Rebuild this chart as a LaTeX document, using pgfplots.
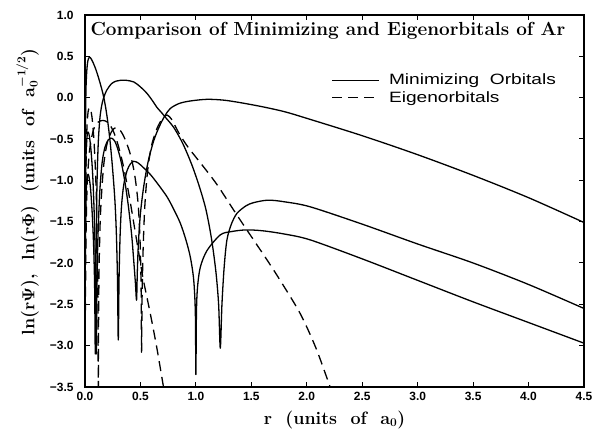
\documentclass[border=0pt]{standalone}
\usepackage{pgfplots}
\pgfplotsset{compat=1.18}
\usepackage{fontspec}
\newfontfamily\sansf{Liberation Sans}
\begin{document}
\begin{tikzpicture}
\useasboundingbox (-85bp,-44bp) rectangle (521bp,387bp);
\begin{axis}[
  scale only axis, width=499bp, height=372bp,
  xmin=0, xmax=4.5, ymin=-3.5, ymax=1,
  xtick={0,0.5,1,1.5,2,2.5,3,3.5,4,4.5},
  ytick={-3.5,-3,-2.5,-2,-1.5,-1,-0.5,0,0.5,1},
  xticklabels={0.0,0.5,1.0,1.5,2.0,2.5,3.0,3.5,4.0,4.5},
  yticklabels={−3.5,−3.0,−2.5,−2.0,−1.5,−1.0,−0.5,0.0,0.5,1.0},
  tick align=inside, major tick length=5bp,
  every tick/.style={black, line width=1bp},
  tick label style={font=\sansf\bfseries\fontsize{12}{12}\selectfont},
  yticklabel style={xshift=-8bp},
  xticklabel style={yshift=-2bp},
  axis line style={line width=1.6bp},
  xlabel={r\ \ (units\ \ of\ \ a{\boldmath$_{0}$})},
  ylabel={ln(r{\boldmath$\Psi$}),\ \ ln(r{\boldmath$\Phi$})\ \ (units\ \ of\ \ a{\boldmath$_{0}^{-1/2}$})},
  label style={font=\bfseries\fontsize{18}{18}\selectfont},
  xlabel style={at={(axis description cs:0.5,0)}, anchor=base, yshift=-37bp},
  ylabel style={at={(axis description cs:-0.115,0.525)}, anchor=center},
  legend style={at={(axis description cs:0.494,0.847)}, anchor=north west, draw=none, fill=none,
    font=\sansf\fontsize{15}{15}\selectfont, row sep=1bp, inner sep=0pt},
  legend cell align=left,
  legend image code/.code={\draw[#1] (0bp,0bp) -- (47bp,0bp);},
  crv/.style={black, no markers, line width=1.3bp, line join=round, smooth, tension=0.5},
  dsh/.style={crv, dash pattern=on 10bp off 6bp},
]
% S1
\addplot[crv] coordinates {(0.003,-0.6)(0.008,0.05)(0.015,0.3)(0.025,0.44)(0.04,0.49)(0.06,0.46)(0.09,0.37)(0.12,0.25)(0.15,0.11)(0.17,0.0)(0.19,-0.15)(0.21,-0.34)(0.23,-0.58)(0.25,-0.88)(0.27,-1.25)(0.283,-1.65)(0.293,-2.2)(0.3,-2.93)(0.307,-2.2)(0.317,-1.65)(0.33,-1.3)(0.35,-1.05)(0.38,-0.88)(0.41,-0.8)(0.44,-0.77)(0.48,-0.79)(0.53,-0.85)(0.59,-0.93)(0.66,-1.05)(0.74,-1.2)(0.8,-1.35)(0.86,-1.52)(0.91,-1.72)(0.95,-1.93)(0.98,-2.2)(0.995,-2.6)(1.0,-3.35)(1.005,-2.6)(1.015,-2.29)(1.04,-2.05)(1.1,-1.85)(1.22,-1.66)(1.32,-1.62)(1.45,-1.6)(1.6,-1.61)(1.8,-1.65)(2.03,-1.72)(2.5,-1.95)(3.0,-2.21)(3.5,-2.47)(4.0,-2.72)(4.5,-2.97)};
\addlegendentry{\hspace{7bp}\scalebox{1.28}[1]{Minimizing\ \ Orbitals}}
% D1
\addplot[dsh] coordinates {(0.003,-1.8)(0.01,-0.75)(0.018,-0.35)(0.028,-0.17)(0.04,-0.12)(0.052,-0.15)(0.065,-0.26)(0.08,-0.5)(0.095,-0.9)(0.105,-1.35)(0.112,-1.9)(0.117,-2.6)(0.12,-3.6)(0.123,-2.6)(0.128,-2.0)(0.137,-1.5)(0.15,-1.15)(0.17,-0.8)(0.2,-0.55)(0.24,-0.41)(0.28,-0.36)(0.32,-0.4)(0.36,-0.5)(0.41,-0.69)(0.45,-0.95)(0.48,-1.3)(0.497,-1.75)(0.506,-2.3)(0.51,-3.08)(0.515,-2.4)(0.525,-1.8)(0.54,-1.3)(0.565,-0.88)(0.6,-0.58)(0.65,-0.37)(0.7,-0.25)(0.74,-0.21)(0.78,-0.26)(0.82,-0.36)(0.86,-0.46)(0.93,-0.6)(1.0,-0.72)(1.1,-0.89)(1.2,-1.07)(1.37,-1.42)(1.52,-1.72)(1.65,-1.98)(1.76,-2.21)(1.94,-2.61)(2.08,-3.02)(2.2,-3.46)(2.25,-3.65)};
\addlegendentry{\hspace{7bp}\scalebox{1.28}[1]{Eigenorbitals}}
% S2
\addplot[crv, forget plot] coordinates {(0.003,-1.6)(0.008,-0.8)(0.014,-0.55)(0.022,-0.43)(0.03,-0.42)(0.04,-0.47)(0.055,-0.65)(0.07,-0.95)(0.083,-1.4)(0.092,-1.9)(0.098,-2.5)(0.102,-3.1)(0.106,-2.5)(0.112,-1.95)(0.12,-1.55)(0.135,-1.1)(0.155,-0.78)(0.18,-0.6)(0.21,-0.51)(0.24,-0.49)(0.27,-0.53)(0.3,-0.64)(0.33,-0.8)(0.36,-1.02)(0.39,-1.3)(0.42,-1.65)(0.44,-1.98)(0.455,-2.25)(0.465,-2.45)(0.472,-2.1)(0.482,-1.75)(0.5,-1.4)(0.53,-1.07)(0.57,-0.77)(0.62,-0.52)(0.67,-0.35)(0.72,-0.22)(0.77,-0.13)(0.85,-0.07)(0.95,-0.04)(1.1,-0.02)(1.25,-0.03)(1.4,-0.06)(1.6,-0.11)(1.8,-0.17)(2.0,-0.25)(2.5,-0.46)(3.0,-0.69)(3.5,-0.94)(4.0,-1.21)(4.5,-1.51)};
% S3
\addplot[crv, forget plot] coordinates {(0.003,-2.0)(0.008,-1.3)(0.015,-1.02)(0.025,-0.93)(0.035,-0.95)(0.05,-1.1)(0.065,-1.4)(0.078,-1.8)(0.087,-2.3)(0.093,-3.1)(0.098,-2.2)(0.103,-1.5)(0.108,-1.05)(0.114,-0.75)(0.122,-0.48)(0.135,-0.24)(0.15,-0.1)(0.166,-0.01)(0.196,0.09)(0.24,0.17)(0.28,0.2)(0.32,0.21)(0.37,0.21)(0.44,0.19)(0.5,0.13)(0.56,0.05)(0.61,-0.04)(0.65,-0.12)(0.69,-0.18)(0.72,-0.23)(0.8,-0.36)(0.88,-0.55)(0.96,-0.8)(1.03,-1.07)(1.09,-1.35)(1.14,-1.7)(1.18,-2.1)(1.205,-2.5)(1.22,-3.03)(1.235,-2.5)(1.255,-2.05)(1.28,-1.72)(1.32,-1.53)(1.37,-1.4)(1.45,-1.31)(1.52,-1.27)(1.65,-1.24)(1.8,-1.26)(2.03,-1.32)(2.5,-1.53)(3.0,-1.77)(3.5,-2.0)(4.0,-2.26)(4.5,-2.55)};
% D2
\addplot[dsh, forget plot] coordinates {(0.003,-2.6)(0.01,-1.6)(0.02,-1.05)(0.04,-0.65)(0.07,-0.42)(0.1,-0.32)(0.14,-0.28)(0.18,-0.28)(0.22,-0.32)(0.26,-0.42)(0.3,-0.58)(0.35,-0.85)(0.4,-1.2)(0.45,-1.6)(0.5,-2.0)(0.527,-2.21)(0.587,-2.6)(0.647,-3.02)(0.708,-3.5)(0.73,-3.65)};
\node[anchor=base west, font=\bfseries\fontsize{19}{19}\selectfont] at (axis description cs:0.004,0.946) {Comparison of Minimizing and Eigenorbitals of Ar};
\end{axis}
\end{tikzpicture}
\end{document}
